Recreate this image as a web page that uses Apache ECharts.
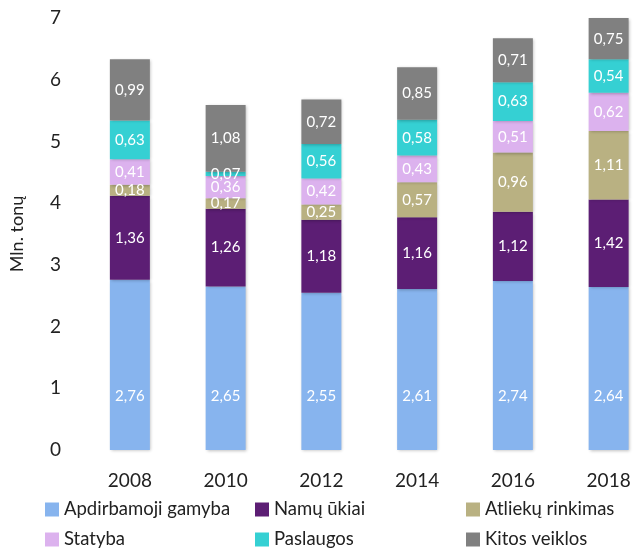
<!DOCTYPE html>
<html><head><meta charset="utf-8">
<script src="https://cdn.jsdelivr.net/npm/echarts@6/dist/echarts.min.js"></script>
<style>html,body{margin:0;padding:0;background:#fff;overflow:hidden;width:642px;height:548px}#c{width:670px;height:548px}</style>
</head><body><div id="c"></div>
<script>
const categories = ['2008','2010','2012','2014','2016','2018'];
const seriesNames = ['Apdirbamoji gamyba','Namų ūkiai','Atliekų rinkimas','Statyba','Paslaugos','Kitos veiklos'];
const apdirbamoji = [2.76, 2.65, 2.55, 2.61, 2.74, 2.64];
const namuUkiai = [1.36, 1.26, 1.18, 1.16, 1.12, 1.42];
const atlieku = [0.18, 0.17, 0.25, 0.57, 0.96, 1.11];
const statyba = [0.41, 0.36, 0.42, 0.43, 0.51, 0.62];
const paslaugos = [0.63, 0.07, 0.56, 0.58, 0.63, 0.54];
const kitos = [0.99, 1.08, 0.72, 0.85, 0.71, 0.75];
const yTicks = [0,1,2,3,4,5,6,7];

const colors = ['#87b4ee','#5c1e74','#b9b182','#dcb2ee','#35d0d3','#808080'];
const values = [apdirbamoji, namuUkiai, atlieku, statyba, paslaugos, kitos];
const FONT = 'Lato';

const series = seriesNames.map((n,i)=>({
  name:n, type:'bar', stack:'s', barWidth:40, data:values[i],
  itemStyle:{color:colors[i], shadowColor:'rgba(0,0,0,0.25)', shadowBlur:3, shadowOffsetX:1, shadowOffsetY:1},
  label:{show:true, position: i===0 ? 'insideBottom' : 'inside', distance: i===0 ? 46 : 5,
    color:'#fff', fontSize:15, fontFamily:FONT,
    formatter:p=>p.value.toFixed(2).replace('.',',')}
}));

const legendPos = [[45,500],[255,500],[466,500],[45,530],[255,530],[466,530]];
const legends = seriesNames.map((n,i)=>({
  data:[n], left:legendPos[i][0], top:legendPos[i][1], padding:0, itemWidth:14, itemHeight:14, itemGap:4,
  icon:'rect', selectedMode:false,
  textStyle:{fontSize:18.5, color:'#222', fontFamily:FONT}
}));

const chart = echarts.init(document.getElementById('c'));
chart.setOption({
  animation:false,
  grid:{left:80.5, width:576, top:18, bottom:98, containLabel:false},
  legend:legends,
  xAxis:{type:'category', data:categories, axisLine:{show:false}, axisTick:{show:false},
    axisLabel:{fontSize:19, color:'#222', fontFamily:FONT, margin:21}},
  yAxis:{type:'value', min:yTicks[0], max:yTicks[yTicks.length-1], interval:1,
    splitLine:{show:false}, axisLine:{show:false}, axisTick:{show:false},
    axisLabel:{fontSize:19, color:'#222', fontFamily:FONT, margin:21},
    name:'Mln. tonų', nameLocation:'middle', nameGap:56, nameRotate:90,
    nameTextStyle:{fontSize:18, color:'#222', fontFamily:FONT}},
  series:series
});
</script></body></html>
